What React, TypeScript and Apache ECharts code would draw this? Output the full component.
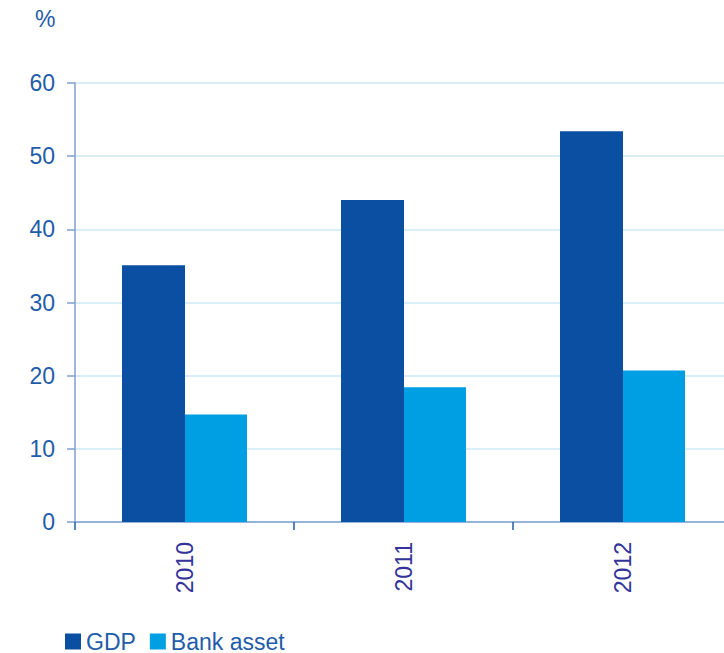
import React, { useEffect, useRef } from "react";
import * as echarts from "echarts";

const categories = ["2010", "2011", "2012"];
const gdp = [35.1, 44.0, 53.4];
const bankAsset = [14.7, 18.4, 20.7];
const seriesNames = ["GDP", "Bank asset"];
const unitLabel = "%";

export default function App() {
  const ref = useRef<HTMLDivElement>(null);
  useEffect(() => {
    if (!ref.current) return;
    const chart = echarts.init(ref.current, null, { renderer: "svg" });
    const font = "Liberation Sans, Arial, sans-serif";
    chart.setOption({
      animation: false,
      grid: { left: 75, right: 0, top: 83, bottom: 131, containLabel: false },
      legend: {
        data: seriesNames,
        left: 60,
        top: 630,
        padding: [0, 5, 0, 5],
        itemWidth: 16,
        itemHeight: 16,
        itemGap: 14,
        icon: "rect",
        textStyle: { fontFamily: font, fontSize: 23, lineHeight: 20, color: "#1f5ca9" },
      },
      graphic: [
        {
          type: "text",
          left: 35,
          top: 7,
          style: { text: unitLabel, fontFamily: font, fontSize: 23, fill: "#1f5ca9" },
        },
      ],
      xAxis: {
        type: "category",
        data: categories,
        boundaryGap: true,
        axisLine: { show: true, lineStyle: { color: "#7f9fcf", width: 1.5 } },
        axisTick: { show: true, length: 8, inside: false, lineStyle: { color: "#1f5ca9", width: 1.5 } },
        axisLabel: {
          rotate: 90,
          margin: 20,
          fontFamily: font,
          fontSize: 23,
          color: "#33339a",
        },
      },
      yAxis: {
        type: "value",
        min: 0,
        max: 60,
        interval: 10,
        axisLine: { show: true, lineStyle: { color: "#7f9fcf", width: 1.5 } },
        axisTick: { show: true, length: 8, lineStyle: { color: "#7f9fcf", width: 1.5 } },
        axisLabel: { margin: 20, fontFamily: font, fontSize: 23, color: "#1f5ca9" },
        splitLine: { show: true, lineStyle: { color: "#cde9f6", width: 1.5 } },
      },
      series: [
        {
          name: seriesNames[0],
          type: "bar",
          data: gdp,
          itemStyle: { color: "#0b4fa3" },
          barWidth: 63,
          barGap: "0%",
        },
        {
          name: seriesNames[1],
          type: "bar",
          data: bankAsset,
          itemStyle: { color: "#009fe3" },
          barWidth: 62,
          barGap: "0%",
        },
      ],
    });
    return () => chart.dispose();
  }, []);
  return (
    <div style={{ position: "absolute", left: 0, top: 0, width: 724, height: 653, overflow: "hidden" }}>
      <div ref={ref} style={{ width: 732, height: 653 }} />
    </div>
  );
}
